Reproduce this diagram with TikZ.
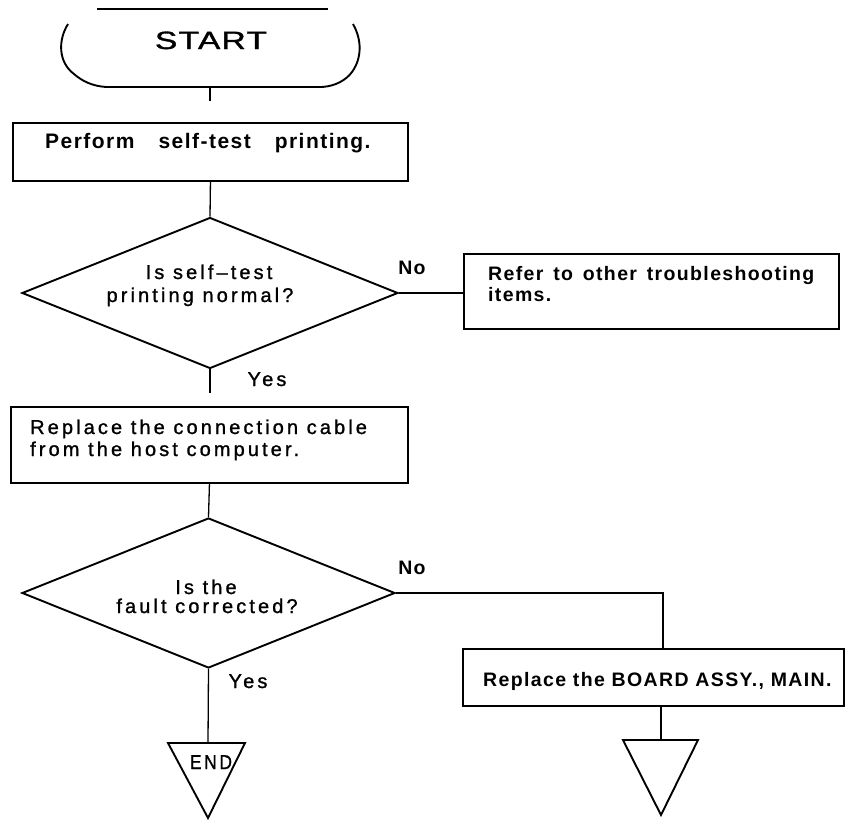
\documentclass[tikz,border=0pt]{standalone}
\usepackage{fontspec}
\usepackage{graphicx}
\setmainfont{Liberation Sans}
\newfontfamily\regfont[LetterSpace=15.5,FakeBold=1.2]{Liberation Sans}
\newfontfamily\boldfont[LetterSpace=7]{Liberation Sans}
\newfontfamily\startfont[LetterSpace=4,FakeBold=1.2]{Liberation Sans}
\usetikzlibrary{shapes.geometric}
\newcommand\fitw[2]{\resizebox{#1}{\height}{#2}}
\begin{document}
\begin{tikzpicture}[x=1pt,y=-1pt,
  outl/.style={line width=1.9pt},
  conn/.style={line width=1.3pt},
  boxnode/.style={draw,outl,rectangle,inner sep=0pt,anchor=north west},
  decnode/.style={draw,outl,diamond,inner sep=0pt},
  txt/.style={inner sep=0pt,font=\regfont\fontsize{20}{22}\selectfont},
  btxt/.style={inner sep=0pt,font=\boldfont\fontsize{19.5}{22}\selectfont\bfseries},
]
\useasboundingbox (0,0) rectangle (852,820);

% START terminal
\node[inner sep=0pt,font=\startfont\fontsize{25}{28}\selectfont,anchor=base] (start) at (211,49) {\fitw{112pt}{START}};
\draw[outl] (97,9) -- (328,9);
\draw[outl] (68,24) .. controls (58,40) and (58,62) .. (74,74) .. controls (82,81) and (92,86) .. (106,87) -- (322,87) .. controls (336,86) and (346,80) .. (352,72) .. controls (362,58) and (362,40) .. (353,24);
\coordinate (startb) at (210,87);
\coordinate (c1) at (210,101);
\draw[conn] (startb) -- (c1);

% box 1
\node[boxnode,minimum width=395pt,minimum height=58pt] (b1) at (12,122) {};
\node[btxt,font=\boldfont\fontsize{21}{22}\selectfont\bfseries,anchor=base west] (t1) at (45,148) {Perform\hspace{24pt}self-test\hspace{24pt}printing.};

% decision 1
\node[decnode,minimum width=376pt,minimum height=151pt] (d1) at (210,293) {};
\node[txt,anchor=base] (q1a) at (209,279) {Is self–test};
\node[txt,anchor=base] (q1b) at (200,302) {printing normal?};
\draw[conn] (b1.south) -- (d1.north);

% No branch 1
\node[btxt,anchor=base] (no1) at (412,274) {No};
\node[boxnode,minimum width=375pt,minimum height=75pt] (b2) at (463,253) {};
\node[btxt,anchor=base west] (t2a) at (488,280) {Refer\hspace{3pt} to\hspace{3pt} other\hspace{3pt} troubleshooting};
\node[btxt,anchor=base west] (t2b) at (488,301) {items.};
\draw[conn] (d1.east) -- (d1.east -| b2.west);

% Yes 1
\node[txt,anchor=base] (yes1) at (267,386) {Yes};
\coordinate (c2) at (210,393);
\draw[conn] (d1.south) -- (c2);

% box 3
\node[boxnode,minimum width=397pt,minimum height=76pt] (b3) at (10,406) {};
\node[txt,anchor=base west] (t3a) at (30,434) {Replace the connection cable};
\node[txt,anchor=base west] (t3b) at (30,456) {from the host computer.};

% decision 2
\node[decnode,minimum width=373pt,minimum height=150pt] (d2) at (208.5,593) {};
\node[txt,anchor=base] (q2a) at (206,594) {Is the};
\node[txt,anchor=base] (q2b) at (207,613) {fault corrected?};
\draw[conn] (b3.south) -- (d2.north);

% No branch 2
\node[btxt,anchor=base] (no2) at (412,574) {No};
\node[boxnode,minimum width=381pt,minimum height=57pt] (b4) at (462,648) {};
\node[btxt,anchor=base west] (t4) at (483,686) {Replace the BOARD ASSY., MAIN.};
\coordinate (cb4) at (663,648);
\draw[conn] (d2.east) -| (cb4);

% Yes 2 and END
\node[txt,anchor=base] (yes2) at (248,688) {Yes};
\coordinate (e1top) at (208,743);
\draw[conn] (d2.south) -- (e1top);
\draw[outl] (168,743) -- (245,743) -- (208,818) -- cycle;
\node[txt,anchor=base] (endt) at (211,769) {\fitw{42pt}{END}};

% connector below box 4
\coordinate (cb4s) at (661,705);
\coordinate (t2top) at (661,740);
\draw[conn] (cb4s) -- (t2top);
\draw[outl] (623,740) -- (698,740) -- (661,815) -- cycle;
\end{tikzpicture}
\end{document}
